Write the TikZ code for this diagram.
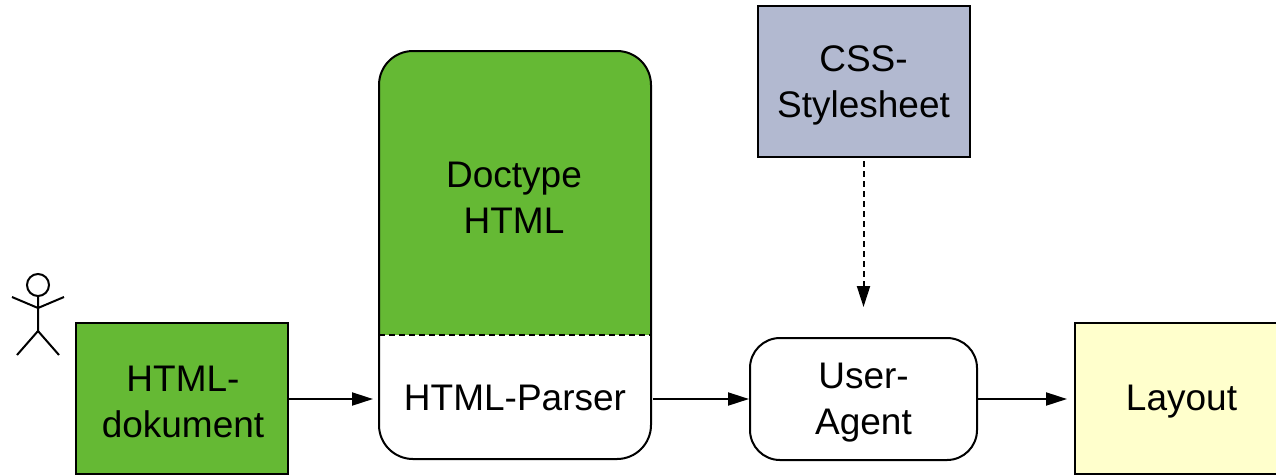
\documentclass[tikz,border=0pt]{standalone}
\usepackage{fontspec}
\setmainfont{Liberation Sans}
\usetikzlibrary{arrows.meta,calc}
\definecolor{grn}{RGB}{101,185,52}
\definecolor{blu}{RGB}{178,185,208}
\definecolor{yel}{RGB}{255,255,204}
\tikzset{
 box/.style={draw=black,line width=2pt,inner sep=0pt},
 txt/.style={inner sep=0pt,align=center,font=\fontsize{37}{46}\selectfont},
 conn/.style={draw=black,line width=2pt,-{Triangle[length=21pt,width=13pt]}},
 dsh/.style={dash pattern=on 6pt off 4pt}}
\begin{document}
\begin{tikzpicture}[x=1pt,y=-1pt]
\useasboundingbox (0,0) rectangle (1276,475);
\fill[grn,rounded corners=34pt] (379,400) -- (379,51) -- (651,51) -- (651,400) -- cycle;
\fill[white] (378,335) rectangle (652,400);
\fill[white,rounded corners=34pt] (379,300) -- (379,459) -- (651,459) -- (651,300) -- cycle;
\fill[grn] (379,300) rectangle (651,335);
\draw[black,line width=2pt,rounded corners=34pt] (379,200) -- (379,51) -- (651,51) -- (651,200);
\draw[black,line width=2pt,rounded corners=34pt] (379,200) -- (379,459) -- (651,459) -- (651,200);
\draw[black,line width=2pt,dash pattern=on 6pt off 4pt] (379,335) -- (651,335);
\node[txt] (doctype) at (514,198) {Doctype\\HTML};
\node[txt] (parser) at (515,398) {HTML-Parser};
\coordinate (pl) at (373,399);
\coordinate (pr) at (653,399);
\node[box,fill=grn,minimum width=212pt,minimum height=151pt] (doc) at (182,398.5) {};
\node[txt] (doct) at (183,401.5) {HTML-\\dokument};
\node[box,fill=blu,minimum width=212pt,minimum height=151pt] (css) at (863.5,81.5) {};
\node[txt] (csst) at (863.5,85.5) {CSS-\\Stylesheet};
\node[box,fill=white,rounded corners=30pt,minimum width=227pt,minimum height=122pt] (ua) at (863.5,399) {};
\node[txt] (uat) at (863.5,402.5) {User-\\Agent};
\node[box,fill=yel,minimum width=212pt,minimum height=151pt] (lay) at (1181,398.5) {};
\node[txt] (layt) at (1181.5,401.5) {Layout};
\coordinate (lay2) at (1067,399);
\coordinate (ua3) at (863.5,307);
\coordinate (cs) at (863.5,161);
\draw[conn] (doc.east|-pl) -- (pl);
\draw[conn] (pr) -- (ua.west);
\draw[conn] (ua.east) -- (lay2);
\draw[conn,dsh] (cs) -- (ua3);
\draw[black,line width=2pt] (38,285) circle (11);
\draw[black,line width=2pt] (38,296) -- (38,331) (12,297) -- (38,308) -- (64,297) (17,355) -- (38,331) -- (59,355);
\end{tikzpicture}
\end{document}
